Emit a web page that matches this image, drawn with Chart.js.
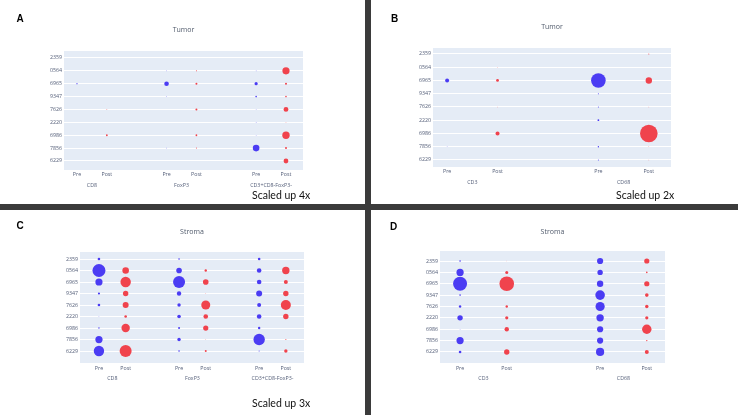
<!DOCTYPE html>
<html>
<head>
<meta charset="utf-8">
<script src="https://cdn.jsdelivr.net/npm/chart.js@4"></script>
<style>
    html, body { margin: 0; padding: 0; }
    body { width: 738px; height: 415px; background: #3b3b3b; position: relative; overflow: hidden; }
    .panel { position: absolute; background: #fff; }
    .panel canvas { position: absolute; left: 0; top: 0; }
    .letter { position: absolute; font: bold 10px "Liberation Sans", Arial, sans-serif; line-height: 1; color: #000; }
    .note { position: absolute; font: 10.5px Lato, sans-serif; line-height: 1; color: #111; white-space: nowrap; }
</style>
</head>
<body>
<div class="panel" style="left:0;top:0;width:365px;height:204px">
    <canvas id="chartA" width="365" height="204"></canvas>
    <div class="letter" style="left:16.5px;top:13.5px">A</div>
    <div class="note" style="left:252px;top:190px">Scaled up 4x</div>
</div>
<div class="panel" style="left:371px;top:0;width:367px;height:204px">
    <canvas id="chartB" width="367" height="204"></canvas>
    <div class="letter" style="left:20px;top:14px">B</div>
    <div class="note" style="left:245px;top:190px">Scaled up 2x</div>
</div>
<div class="panel" style="left:0;top:210px;width:365px;height:205px">
    <canvas id="chartC" width="365" height="205"></canvas>
    <div class="letter" style="left:16.5px;top:11px">C</div>
    <div class="note" style="left:252px;top:187.5px">Scaled up 3x</div>
</div>
<div class="panel" style="left:371px;top:210px;width:367px;height:205px">
    <canvas id="chartD" width="367" height="205"></canvas>
    <div class="letter" style="left:19px;top:12px">D</div>
</div>
<script>
// sample ids, top to bottom
const rowLabels = ["2359", "0564", "6965", "9347", "7626", "2220", "6986", "7856", "6229"];
const stageLabels = ["Pre", "Post"];
const tCellGroups = ["CD8", "FoxP3", "CD3+CD8-FoxP3-"];
const panGroups = ["CD3", "CD68"];

// bubble radius per sample (same order as rowLabels)
const tumorCD8Pre = [0, 0, 0.6, 0, 0, 0, 0, 0, 0];
const tumorCD8Post = [0, 0, 0, 0, 0.4, 0, 0.9, 0, 0];
const tumorFoxp3Pre = [0, 0.3, 2.3, 0.3, 0, 0, 0, 0.3, 0];
const tumorFoxp3Post = [0, 0.5, 1.0, 0, 1.0, 0, 0.9, 0.5, 0];
const tumorDnPre = [0, 0.3, 1.6, 0.8, 0.3, 0.3, 0.3, 3.3, 0];
const tumorDnPost = [0, 3.6, 1.0, 0.8, 2.4, 0.3, 3.7, 1.0, 2.4];

const tumorCD3Pre = [0, 0, 2.0, 0, 0, 0, 0, 0.3, 0];
const tumorCD3Post = [0, 0.3, 1.4, 0, 0.3, 0, 2.0, 0, 0];
const tumorCD68Pre = [0, 0, 7.3, 0.5, 0.5, 0.9, 0, 0.7, 0.5];
const tumorCD68Post = [0.5, 0, 3.2, 0, 0.3, 0, 8.8, 0.3, 0.3];

const stromaCD8Pre = [1.3, 6.5, 3.6, 1.1, 1.3, 0.3, 0.7, 3.6, 5.2];
const stromaCD8Post = [0, 3.3, 5.2, 2.7, 3.0, 1.3, 4.2, 0, 6.0];
const stromaFoxp3Pre = [0.8, 2.8, 6.0, 2.2, 1.7, 1.8, 1.0, 1.7, 0.8];
const stromaFoxp3Post = [0, 1.2, 2.8, 0.3, 4.5, 2.3, 2.6, 0.3, 1.0];
const stromaDnPre = [1.3, 2.3, 2.3, 3.0, 2.0, 2.3, 1.2, 5.7, 0.5];
const stromaDnPost = [0, 3.7, 2.0, 2.7, 5.0, 2.7, 0, 0.5, 1.7];

const stromaCD3Pre = [0.8, 3.6, 7.0, 0.8, 1.2, 2.7, 0.3, 3.6, 1.3];
const stromaCD3Post = [0.2, 1.5, 7.3, 0, 1.2, 1.6, 2.2, 0, 2.7];
const stromaCD68Pre = [3.1, 2.7, 3.2, 4.8, 4.6, 3.7, 3.1, 3.1, 4.1];
const stromaCD68Post = [2.6, 0.8, 2.6, 1.8, 1.7, 1.6, 4.7, 0.7, 2.0];

const BLUE = "#4b3cf3";
const RED = "#f0434d";
const AXIS_FONT = { family: "'Open Sans', sans-serif", size: 5.3 };
const AXIS_COLOR = "#56607a";
const Y_W = 30; // fixed y axis width
const X_H = 10; // Pre / Post row
const X2_H = 12; // group name row

// light blue plot area like plotly
const plotBackground = {
    id: "plotBackground",
    beforeDraw(chart) {
        const { ctx, chartArea: a } = chart;
        ctx.save();
        ctx.fillStyle = "#e5ecf6";
        ctx.fillRect(a.left, a.top, a.right - a.left, a.bottom - a.top);
        ctx.restore();
    },
};

// title centred over the plot area, not the canvas
const panelTitle = {
    id: "panelTitle",
    afterDraw(chart, args, opts) {
        const { ctx, chartArea: a } = chart;
        ctx.save();
        ctx.font = "7px 'Open Sans', sans-serif";
        ctx.fillStyle = "#505a6b";
        ctx.textAlign = "center";
        ctx.textBaseline = "middle";
        ctx.fillText(opts.text, (a.left + a.right) / 2, opts.y);
        ctx.restore();
    },
};

function toPoints(values, xPos) {
    return values.map((r, i) => ({ x: xPos, y: i, r: r }));
}

function drawPanel(canvasId, title, groups, preSets, postSets, box) {
    const canvas = document.getElementById(canvasId);
    const W = canvas.width;
    const H = canvas.height;
    const lh = AXIS_FONT.size * 1.2;
    const tickPos = groups.flatMap((_, g) => [g * 3, g * 3 + 1]);
    const groupPos = groups.map((_, g) => g * 3 + 0.5);
    const pre = preSets.flatMap((vals, g) => toPoints(vals, g * 3));
    const post = postSets.flatMap((vals, g) => toPoints(vals, g * 3 + 1));

    new Chart(canvas, {
        type: "bubble",
        data: {
            datasets: [
                { label: stageLabels[0], data: pre, backgroundColor: BLUE, borderWidth: 0, hoverRadius: 0 },
                { label: stageLabels[1], data: post, backgroundColor: RED, borderWidth: 0, hoverRadius: 0 },
            ],
        },
        options: {
            responsive: false,
            animation: false,
            events: [],
            layout: {
                padding: {
                    left: box.left - Y_W,
                    right: W - box.right,
                    top: box.top,
                    bottom: H - box.bottom - X_H - X2_H,
                },
            },
            plugins: {
                legend: { display: false },
                tooltip: { enabled: false },
                panelTitle: { text: title, y: box.titleY },
            },
            scales: {
                x: {
                    type: "linear",
                    position: "bottom",
                    min: box.xMin,
                    max: box.xMax,
                    afterBuildTicks: (s) => { s.ticks = tickPos.map((v) => ({ value: v })); },
                    afterFit: (s) => { s.height = X_H; },
                    ticks: {
                        autoSkip: false,
                        maxRotation: 0,
                        font: AXIS_FONT,
                        color: AXIS_COLOR,
                        padding: box.tickY - box.bottom - lh / 2,
                        callback: (v, i) => stageLabels[i % 2],
                    },
                    grid: { display: false, drawTicks: false },
                    border: { display: false },
                },
                x2: {
                    type: "linear",
                    axis: "x",
                    position: "bottom",
                    min: box.xMin,
                    max: box.xMax,
                    afterBuildTicks: (s) => { s.ticks = groupPos.map((v) => ({ value: v })); },
                    afterFit: (s) => { s.height = X2_H; },
                    ticks: {
                        autoSkip: false,
                        maxRotation: 0,
                        font: AXIS_FONT,
                        color: AXIS_COLOR,
                        padding: box.groupY - box.bottom - X_H - lh / 2,
                        callback: (v, i) => groups[i],
                    },
                    grid: { display: false, drawTicks: false },
                    border: { display: false },
                },
                y: {
                    type: "linear",
                    reverse: true,
                    min: box.yMin,
                    max: box.yMax,
                    afterBuildTicks: (s) => { s.ticks = rowLabels.map((_, i) => ({ value: i })); },
                    afterFit: (s) => { s.width = Y_W; },
                    ticks: {
                        autoSkip: false,
                        font: AXIS_FONT,
                        color: AXIS_COLOR,
                        padding: 2,
                        callback: (v, i) => rowLabels[i],
                    },
                    grid: { color: "#ffffff", lineWidth: 1, drawTicks: false },
                    border: { display: false },
                },
            },
        },
        plugins: [plotBackground, panelTitle],
    });
}

drawPanel("chartA", "Tumor", tCellGroups,
    [tumorCD8Pre, tumorFoxp3Pre, tumorDnPre],
    [tumorCD8Post, tumorFoxp3Post, tumorDnPost],
    { left: 64, right: 303, top: 51, bottom: 170, titleY: 30, tickY: 174, groupY: 185,
      xMin: -0.435, xMax: 7.57, yMin: -0.54, yMax: 8.7 });

drawPanel("chartB", "Tumor", panGroups,
    [tumorCD3Pre, tumorCD68Pre],
    [tumorCD3Post, tumorCD68Post],
    { left: 62, right: 300, top: 48, bottom: 167, titleY: 27, tickY: 171, groupY: 182,
      xMin: -0.28, xMax: 4.44, yMin: -0.45, yMax: 8.53 });

drawPanel("chartC", "Stroma", tCellGroups,
    [stromaCD8Pre, stromaFoxp3Pre, stromaDnPre],
    [stromaCD8Post, stromaFoxp3Post, stromaDnPost],
    { left: 80, right: 304, top: 42, bottom: 153, titleY: 22, tickY: 158, groupY: 168,
      xMin: -0.71, xMax: 7.68, yMin: -0.61, yMax: 9.04 });

drawPanel("chartD", "Stroma", panGroups,
    [stromaCD3Pre, stromaCD68Pre],
    [stromaCD3Post, stromaCD68Post],
    { left: 69, right: 294, top: 41, bottom: 153, titleY: 22, tickY: 158, groupY: 168,
      xMin: -0.43, xMax: 4.39, yMin: -0.88, yMax: 8.97 });
</script>
</body>
</html>
